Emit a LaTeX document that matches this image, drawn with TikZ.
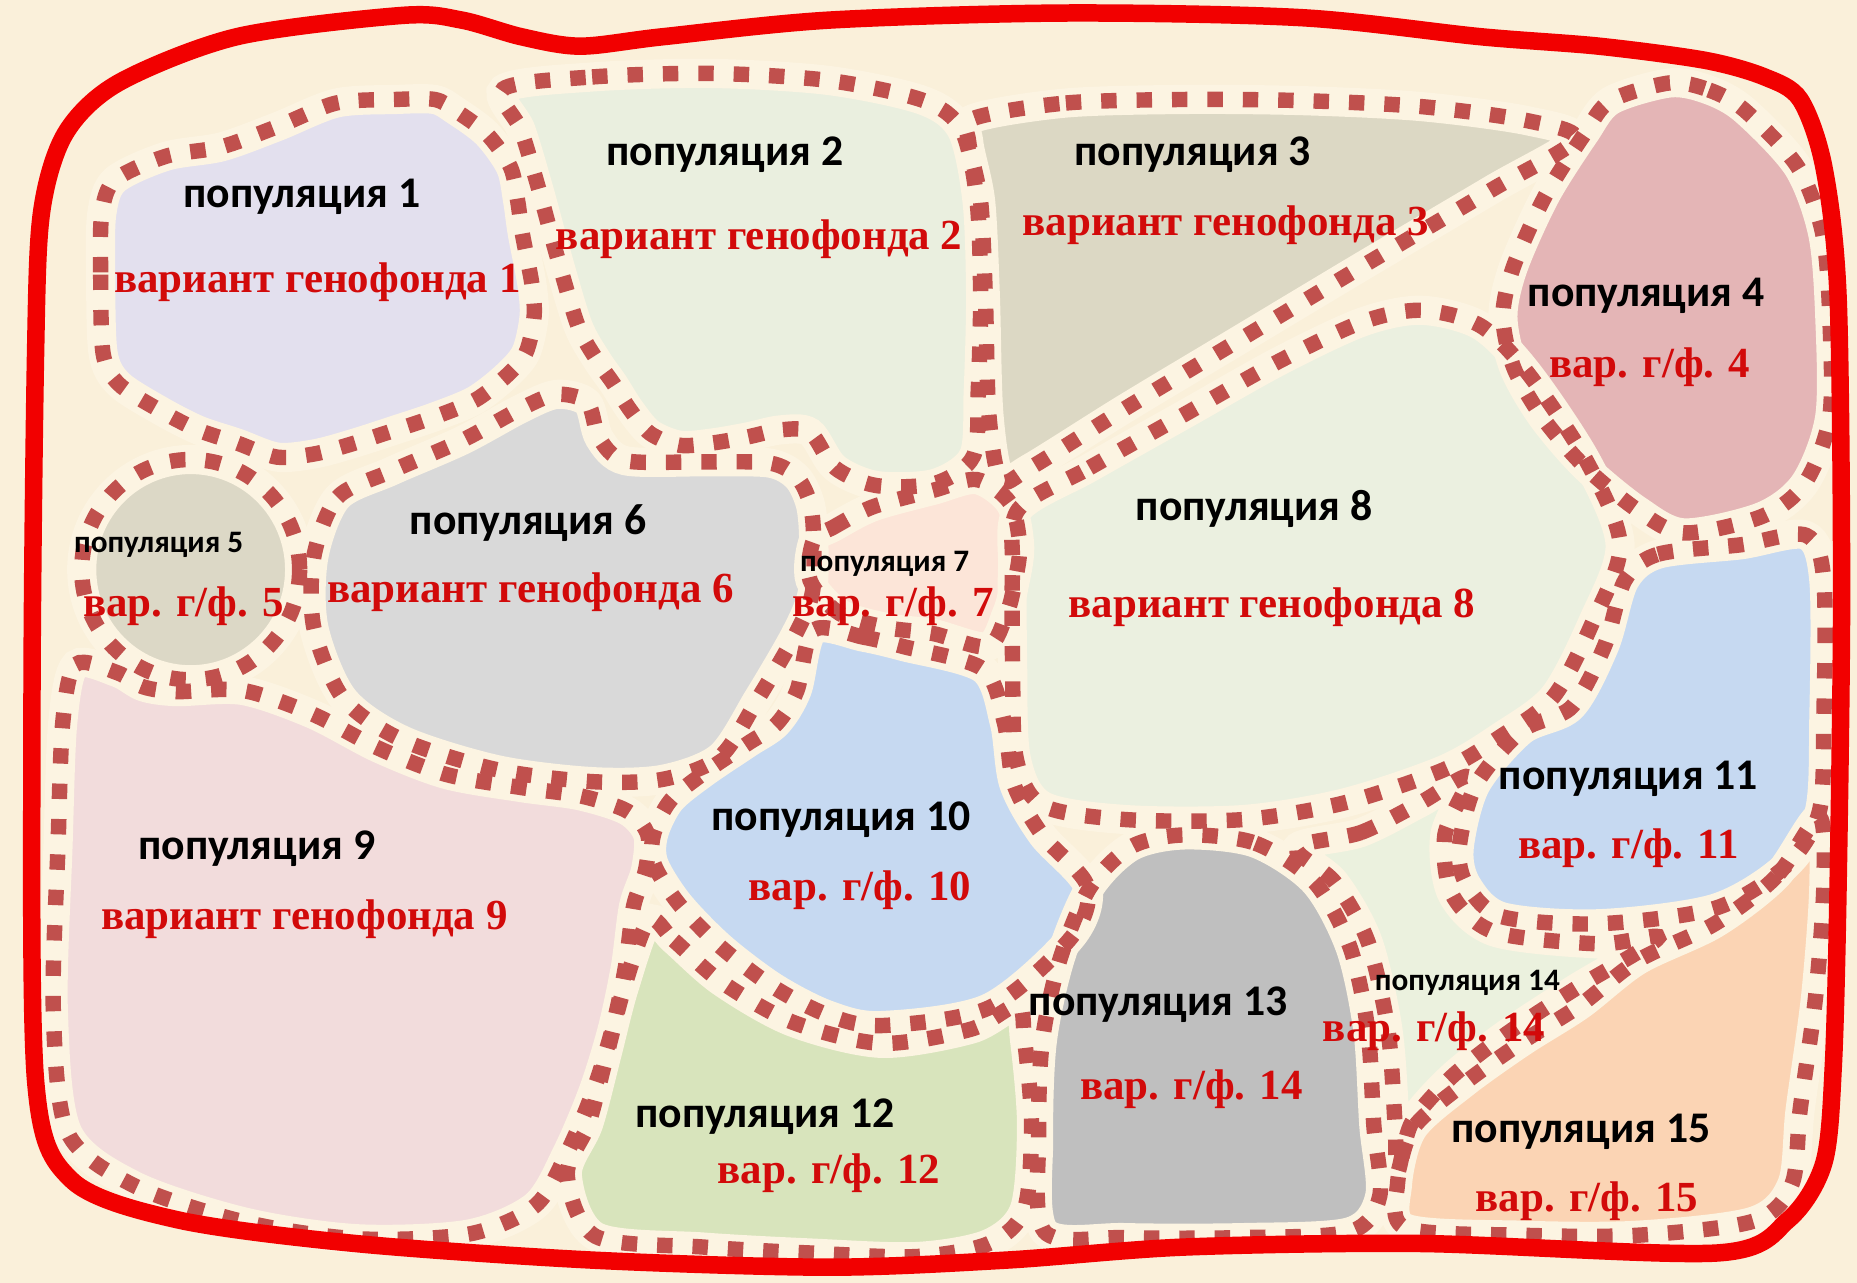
\documentclass[tikz,border=0pt]{standalone}
\usepackage{fontspec}
\newfontfamily\popfont{Carlito}
\newfontfamily\varfont{Liberation Serif}
\definecolor{bgc}{RGB}{250,240,218}
\definecolor{haloc}{RGB}{252,244,226}
\definecolor{dotc}{RGB}{192,80,77}
\definecolor{borderc}{RGB}{242,0,0}
\definecolor{txtred}{RGB}{210,10,10}
\definecolor{cA}{RGB}{227,224,238}
\definecolor{cB}{RGB}{234,239,223}
\definecolor{cC}{RGB}{220,216,196}
\definecolor{cD}{RGB}{228,181,182}
\definecolor{cE}{RGB}{220,216,198}
\definecolor{cF}{RGB}{217,217,217}
\definecolor{cG}{RGB}{252,229,216}
\definecolor{cH}{RGB}{235,240,224}
\definecolor{cI}{RGB}{242,220,220}
\definecolor{cJ}{RGB}{198,217,241}
\definecolor{cK}{RGB}{198,217,241}
\definecolor{cL}{RGB}{216,228,188}
\definecolor{cM}{RGB}{191,191,191}
\definecolor{cN}{RGB}{235,241,222}
\definecolor{cO}{RGB}{251,212,180}
\tikzset{
  halo/.style={draw=haloc, line width=7pt},
  dots/.style={draw=dotc, line width=3.7pt, dash pattern=on 3.7pt off 4.8pt},
  poplbl/.style={font=\popfont\bfseries\fontsize{10.5}{12}\selectfont, text=black, inner sep=0pt},
  popsmall/.style={font=\popfont\bfseries\fontsize{7.5}{9}\selectfont, text=black, inner sep=0pt},
  varlbl/.style={font=\varfont\bfseries\fontsize{10.3}{12}\selectfont, text=txtred, inner sep=0pt},
  outer/.style={draw=borderc, line width=4.2pt}
}
\def\shA{plot[smooth cycle] coordinates{(87,298) (85,230) (86,180) (97,152) (140,132) (187,124) (234,107) (284,87) (334,84) (367,84) (384,93) (411,113) (431,141) (437,169) (441,197) (449,239) (451,267) (444,298) (427,318) (401,338) (367,352) (334,363) (300,374) (267,383) (234,386) (200,374) (167,363) (134,346) (100,324)}}
\def\shB{plot[smooth cycle] coordinates{(425,75) (500,65) (600,62) (700,68) (780,85) (812,110) (825,170) (828,250) (826,330) (822,385) (790,408) (740,410) (705,395) (684,365) (659,363) (631,369) (602,374) (574,376) (549,366) (532,346) (518,324) (504,304) (488,275) (470,215) (455,160) (440,110)}}
\def\shC{plot[smooth cycle] coordinates{(822,100) (900,87) (1000,84) (1100,85) (1200,90) (1290,102) (1330,118) (1260,160) (1150,225) (1050,285) (950,345) (870,395) (845,405) (835,350) (832,250) (828,170) (818,120)}}
\def\shD{plot[smooth cycle] coordinates{(1410,70) (1443,76) (1473,93) (1518,141) (1539,197) (1545,267) (1545,352) (1524,408) (1488,436) (1422,450) (1383,431) (1338,394) (1302,352) (1278,310) (1269,267) (1278,225) (1305,165) (1338,113) (1360,85)}}
\def\shF{plot[smooth cycle] coordinates{(265,470) (285,420) (330,398) (390,372) (440,345) (470,333) (496,340) (506,370) (528,389) (594,390) (650,391) (673,403) (684,425) (687,453) (686,500) (672,535) (640,590) (608,639) (560,658) (500,660) (420,650) (340,625) (290,590) (265,530)}}
\def\shG{plot[smooth cycle] coordinates{(687,456) (704,445) (737,428) (788,414) (825,405) (853,425) (861,462) (856,496) (850,518) (834,546) (788,535) (749,530) (709,518) (684,490)}}
\def\shH{plot[smooth cycle] coordinates{(860,430) (920,395) (1000,350) (1080,305) (1150,272) (1200,262) (1250,275) (1290,315) (1340,390) (1368,460) (1345,525) (1312,588) (1267,622) (1219,650) (1135,678) (1050,692) (950,692) (880,680) (858,640) (855,560) (855,480)}}
\def\shI{plot[smooth cycle] coordinates{(53,610) (64,561) (99,568) (121,580) (149,584) (205,583) (264,603) (320,632) (377,654) (440,665) (490,672) (530,685) (547,705) (545,735) (535,765) (528,817) (517,869) (501,921) (479,973) (452,1018) (396,1042) (302,1046) (207,1032) (113,1001) (57,956) (45,852) (49,714)}}
\def\shJ{plot[smooth cycle] coordinates{(687,532) (729,538) (763,546) (830,565) (848,610) (856,662) (880,705) (918,748) (905,791) (835,851) (744,866) (699,857) (654,834) (609,800) (573,763) (552,729) (552,704) (566,676) (594,653) (631,628) (656,611) (673,583)}}
\def\shK{plot[smooth cycle] coordinates{(1372,490) (1400,468) (1470,460) (1525,452) (1540,490) (1540,607) (1536,686) (1507,732) (1448,767) (1350,780) (1268,774) (1239,748) (1232,717) (1246,663) (1285,617) (1327,597) (1355,545)}}
\def\shL{plot[smooth cycle] coordinates{(548,777) (569,794) (609,829) (669,863) (744,881) (820,869) (859,849) (865,877) (871,949) (865,1021) (835,1050) (774,1061) (684,1058) (594,1053) (503,1044) (479,992) (497,949) (512,892) (527,834)}}
\def\shM{plot[smooth cycle] coordinates{(1000,705) (1060,712) (1110,745) (1140,800) (1155,870) (1160,950) (1165,1010) (1140,1040) (1050,1045) (950,1045) (882,1040) (877,960) (880,880) (895,810) (920,750) (955,715)}}
\def\shN{plot[smooth cycle] coordinates{(1095,716) (1149,703) (1199,678) (1240,656) (1220,705) (1226,755) (1262,787) (1350,797) (1400,792) (1330,835) (1272,873) (1225,910) (1192,948) (1180,990) (1178,950) (1172,870) (1155,795) (1127,745)}}
\def\shO{plot[smooth cycle] coordinates{(1536,690) (1500,740) (1448,780) (1383,811) (1334,849) (1285,880) (1236,915) (1193,953) (1180,1000) (1187,1037) (1285,1043) (1383,1043) (1481,1031) (1513,1000) (1520,937) (1533,842) (1540,748)}}
\def\shE{(161,481) ellipse [x radius=92, y radius=93]}
\def\shOuter{plot[smooth cycle] coordinates{(30,300) (35,180) (55,113) (100,70) (200,31) (340,13) (390,17) (440,31) (490,39) (560,31) (700,17) (900,11) (1100,15) (1250,31) (1350,39) (1440,51) (1490,65) (1520,84) (1540,141) (1552,250) (1555,500) (1552,750) (1548,900) (1540,982) (1510,1030) (1450,1058) (1200,1050) (1000,1053) (850,1064) (700,1070) (500,1064) (300,1050) (150,1030) (60,996) (30,912) (27,600)}}
\begin{document}
\begin{tikzpicture}[x=0.01cm, y=-0.01cm]
\fill[bgc] (0,0) rectangle (1568,1083);
\useasboundingbox (0,0) rectangle (1568,1083);
% fills
\fill[cA] \shA;
\fill[cB] \shB;
\fill[cC] \shC;
\fill[cD] \shD;
\fill[cN] \shN;
\fill[cH] \shH;
\fill[cF] \shF;
\fill[cE] \shE;
\fill[cG] \shG;
\fill[cI] \shI;
\fill[cJ] \shJ;
\fill[cL] \shL;
\fill[cM] \shM;
\fill[cO] \shO;
\fill[cK] \shK;
% halos
\foreach \s in {\shA,\shB,\shC,\shD,\shE,\shF,\shG,\shH,\shI,\shJ,\shK,\shL,\shM,\shN,\shO}{\path[halo] \s;}
% dotted outlines
\foreach \s in {\shA,\shB,\shC,\shD,\shE,\shF,\shG,\shH,\shI,\shJ,\shK,\shL,\shM,\shN,\shO}{\path[dots] \s;}
% outer border
\path[outer] \shOuter;
% labels
\node[poplbl] (t1) at (255,166) {популяция 1};
\node[varlbl] (v1) at (268,238) {вариант генофонда 1};
\node[poplbl] (t2) at (612,131) {популяция 2};
\node[varlbl] (v2) at (641,202) {вариант генофонда 2};
\node[poplbl] (t3) at (1007,131) {популяция 3};
\node[varlbl] (v3) at (1035,190) {вариант генофонда 3};
\node[poplbl] (t4) at (1390,250) {популяция 4};
\node[varlbl] (v4) at (1393,310) {вар. г/ф. 4};
\node[popsmall] (t5) at (134,460) {популяция 5};
\node[varlbl] (v5) at (155,512) {вар. г/ф. 5};
\node[poplbl] (t6) at (446,442) {популяция 6};
\node[varlbl] (v6) at (448,500) {вариант генофонда 6};
\node[popsmall] (t7) at (747,476) {популяция 7};
\node[varlbl] (v7) at (754,512) {вар. г/ф. 7};
\node[poplbl] (t8) at (1059,430) {популяция 8};
\node[varlbl] (v8) at (1074,513) {вариант генофонда 8};
\node[poplbl] (t9) at (217,717) {популяция 9};
\node[varlbl] (v9) at (257,776) {вариант генофонда 9};
\node[poplbl] (t10) at (710,692) {популяция 10};
\node[varlbl] (v10) at (726,752) {вар. г/ф. 10};
\node[poplbl] (t11) at (1375,658) {популяция 11};
\node[varlbl] (v11) at (1375,716) {вар. г/ф. 11};
\node[poplbl] (t12) at (646,943) {популяция 12};
\node[varlbl] (v12) at (700,991) {вар. г/ф. 12};
\node[poplbl] (t13) at (978,848) {популяция 13};
\node[varlbl] (v13) at (1006,920) {вар. г/ф. 14};
\node[popsmall] (t14) at (1239,830) {популяция 14};
\node[varlbl] (v14) at (1211,871) {вар. г/ф. 14};
\node[poplbl] (t15) at (1335,956) {популяция 15};
\node[varlbl] (v15) at (1340,1014) {вар. г/ф. 15};
\end{tikzpicture}
\end{document}
